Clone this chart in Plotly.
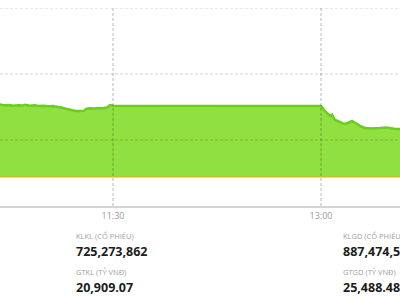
import plotly.graph_objects as go

DAY = "2025-06-10 "

# Morning session (index points)
am_times = ["10:41:00", "10:43:00", "10:45:00", "10:47:00", "10:49:00", "10:51:00", "10:52:00",
            "10:54:00", "10:56:00", "10:58:00", "11:00:00", "11:02:00", "11:04:00", "11:06:00",
            "11:08:00", "11:10:00", "11:12:00", "11:14:00", "11:16:00", "11:17:30", "11:18:30",
            "11:20:00", "11:22:00", "11:24:00", "11:26:00", "11:27:30", "11:28:30", "11:29:00",
            "11:30:00"]
am_values = [1705.40, 1705.25, 1705.30, 1705.20, 1705.28, 1705.22, 1705.35,
             1705.20, 1705.25, 1705.15, 1705.20, 1705.10, 1705.15, 1705.05,
             1704.90, 1704.70, 1704.50, 1704.40, 1704.38, 1704.45, 1704.75,
             1704.82, 1704.78, 1704.85, 1704.80, 1704.95, 1705.25, 1705.30,
             1705.20]

# Afternoon session
pm_times = ["13:00:00", "13:01:44", "13:03:54", "13:04:46", "13:06:04", "13:08:14", "13:09:58",
            "13:11:40", "13:13:26", "13:15:36", "13:17:00", "13:19:03", "13:22:00", "13:25:32",
            "13:28:00", "13:29:52", "13:32:00", "13:34:30"]
pm_values = [1705.15, 1704.39, 1703.64, 1703.86, 1703.03, 1702.73, 1702.42,
             1702.58, 1702.88, 1702.42, 1702.12, 1701.82, 1701.74, 1701.82,
             1701.90, 1701.82, 1701.67, 1701.67]

reference_level = 1694.39
y_ticks = [1700, 1710, 1720]
x_tick_times = ["11:30:00", "13:00:00"]
x_tick_labels = ["11:30", "13:00"]
x_window = ["10:41:06", "13:34:11"]

stats_left = [("KLKL (CỔ PHIẾU)", "725,273,862"), ("GTKL (TỶ VNĐ)", "20,909.07")]
stats_right = [("KLGD (CỔ PHIẾU)", "887,474,520"), ("GTGD (TỶ VNĐ)", "25,488.48")]

times = [DAY + t for t in am_times + pm_times]
values = am_values + pm_values
ref_x = [DAY + "10:41:00", DAY + "13:34:30"]

fig = go.Figure()
fig.add_trace(go.Scatter(x=ref_x, y=[reference_level] * 2, mode="lines",
                         line=dict(width=0, color="rgba(0,0,0,0)"), hoverinfo="skip",
                         showlegend=False))
fig.add_trace(go.Scatter(x=times, y=values, mode="lines", fill="tonexty",
                         fillcolor="#90e042", line=dict(color="#6ccd1c", width=2.5),
                         showlegend=False))
fig.add_trace(go.Scatter(x=ref_x, y=[reference_level] * 2, mode="lines",
                         line=dict(width=1, color="#f0a81c"), showlegend=False))

shapes = []
for v in y_ticks:
    shapes.append(dict(type="line", xref="paper", x0=0, x1=1, yref="y", y0=v, y1=v,
                       layer="above", line=dict(color="rgba(0,0,0,0.18)", width=1, dash="3px,2px")))
for t in x_tick_times:
    shapes.append(dict(type="line", xref="x", x0=DAY + t, x1=DAY + t, yref="paper", y0=0, y1=1,
                       layer="above", line=dict(color="rgba(0,0,0,0.28)", width=1, dash="3px,2px")))

annotations = []
def px_y(p):
    return (206 - p) / 198.0

for col_x, stats in ((74, stats_left), (340.5, stats_right)):
    for i, (label, num) in enumerate(stats):
        base = 236 + i * 36
        annotations.append(dict(xref="paper", yref="paper", x=col_x / 400, y=px_y(base),
                                text=label, showarrow=False, xanchor="left", yanchor="middle",
                                font=dict(family="Open Sans", size=7.5, color="#a0a0a0")))
        annotations.append(dict(xref="paper", yref="paper", x=col_x / 400, y=px_y(base + 15.5),
                                text="<b>" + num + "</b>", showarrow=False, xanchor="left",
                                yanchor="middle",
                                font=dict(family="Open Sans", size=12.5, color="#1c1c1c")))

fig.update_layout(
    width=400, height=300,
    margin=dict(l=0, r=0, t=8, b=94),
    paper_bgcolor="white", plot_bgcolor="white",
    shapes=shapes, annotations=annotations,
    xaxis=dict(type="date", range=[DAY + x_window[0], DAY + x_window[1]],
               tickvals=[DAY + t for t in x_tick_times], ticktext=x_tick_labels,
               showgrid=False, zeroline=False, showline=True, linecolor="#d4d4d4", linewidth=2,
               ticks="", tickfont=dict(family="Open Sans", size=9, color="#9a9a9a")),
    yaxis=dict(range=[1690, 1720], showgrid=False, zeroline=False, showticklabels=False,
               showline=False, ticks=""),
)

fig.write_html("out.html")
